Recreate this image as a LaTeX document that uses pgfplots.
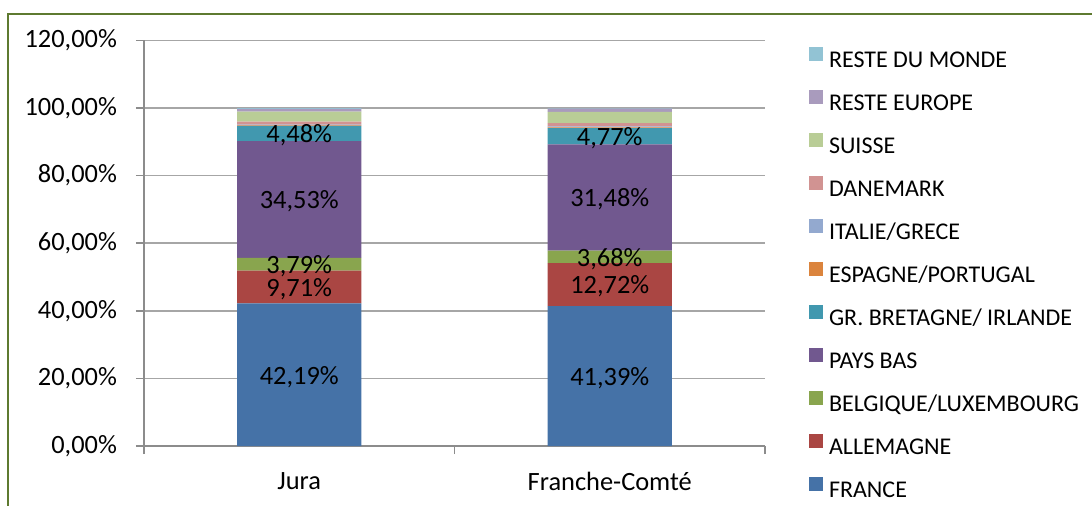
\documentclass[border=0pt]{standalone}
\usepackage{pgfplots}
\pgfplotsset{compat=1.18}
\usepackage{fontspec}
\setmainfont{Carlito}

\definecolor{cFR}{HTML}{4572A7}
\definecolor{cDE}{HTML}{AA4643}
\definecolor{cBE}{HTML}{89A54E}
\definecolor{cNL}{HTML}{71588F}
\definecolor{cGB}{HTML}{4198AF}
\definecolor{cES}{HTML}{DB843D}
\definecolor{cIT}{HTML}{93A9CF}
\definecolor{cDK}{HTML}{D19392}
\definecolor{cCH}{HTML}{B9CD96}
\definecolor{cEU}{HTML}{A99BBD}
\definecolor{cRM}{HTML}{92C3D4}
\definecolor{gridgray}{HTML}{A6A6A6}
\definecolor{axisgray}{HTML}{8C8C8C}
\definecolor{border}{HTML}{5E7A30}

\pgfplotsset{
  sq/.style={legend image code/.code={\fill[##1,draw=none] (0pt,0pt) rectangle (7pt,7pt);}},
  lab/.style={
    nodes near coords={\pgfmathprintnumber[assume math mode=true,fixed,fixed zerofill,precision=2,use comma]{\pgfplotspointmeta}\%},
    point meta=rawy,
    every node near coord/.style={anchor=center, inner sep=0pt, black,
      font=\fontsize{13.2}{15}\selectfont, yshift=-1pt},
  },
}

\begin{document}
\begin{tikzpicture}
\path[use as bounding box] (0,0) rectangle (546pt,-252.5pt);
\draw[border, line width=1pt] (4.1pt,-253pt) -- (4.1pt,-6.85pt) -- (547pt,-6.85pt);
\begin{axis}[
    at={(72pt,-223pt)}, anchor=south west,
    scale only axis, width=310.5pt, height=202.8pt,
    ybar stacked, bar width=0.4,
    xmin=-0.5, xmax=1.5, ymin=0, ymax=120,
    xtick={0,1}, xticklabels={Jura,Franche-Comté},
    ytick={0,20,...,120},
    yticklabel={\pgfmathprintnumber[assume math mode=true,fixed,fixed zerofill,precision=2,use comma]{\tick}\%},
    axis x line*=bottom, axis y line*=left,
    axis line style={draw=axisgray, line width=0.75pt, -},
    ymajorgrids, grid style={draw=gridgray, line width=0.75pt},
    tick align=outside, major tick length=4pt,
    tick style={draw=axisgray, line width=0.75pt},
    xtick style={draw=none},
    extra x ticks={-0.5,0.5,1.5}, extra x tick labels={},
    extra x tick style={grid=none, xtick style={draw=axisgray, line width=0.75pt}},
    tick label style={font=\fontsize{13.2}{15}\selectfont},
    yticklabel style={xshift=-6pt},
    xticklabel style={yshift=-5.5pt},
    legend style={at={(1.0709,0.983)}, anchor=north west, draw=none, fill=none,
      inner sep=0pt, outer sep=0pt, row sep=9.5pt, column sep=3pt,
      font=\fontsize{12}{13}\selectfont,
      nodes={inner sep=0pt, text height=8pt, text depth=2pt}},
    legend cell align=left,
    reverse legend,
]
\addplot[fill=cFR, draw=none, sq, lab] coordinates {(0,42.19) (1,41.39)};
\addplot[fill=cDE, draw=none, sq, lab] coordinates {(0,9.71) (1,12.72)};
\addplot[fill=cBE, draw=none, sq, lab] coordinates {(0,3.79) (1,3.68)};
\addplot[fill=cNL, draw=none, sq, lab] coordinates {(0,34.53) (1,31.48)};
\addplot[fill=cGB, draw=none, sq, lab] coordinates {(0,4.48) (1,4.77)};
\addplot[fill=cES, draw=none, sq] coordinates {(0,0.15) (1,0.20)};
\addplot[fill=cIT, draw=none, sq] coordinates {(0,0.25) (1,0.30)};
\addplot[fill=cDK, draw=none, sq] coordinates {(0,0.90) (1,1.00)};
\addplot[fill=cCH, draw=none, sq] coordinates {(0,2.90) (1,3.30)};
\addplot[fill=cEU, draw=none, sq] coordinates {(0,0.85) (1,0.95)};
\addplot[fill=cRM, draw=none, sq] coordinates {(0,0.25) (1,0.21)};
\legend{FRANCE,ALLEMAGNE,BELGIQUE/LUXEMBOURG,PAYS BAS,GR. BRETAGNE/ IRLANDE,ESPAGNE/PORTUGAL,ITALIE/GRECE,DANEMARK,SUISSE,RESTE EUROPE,RESTE DU MONDE}
\end{axis}
\end{tikzpicture}
\end{document}
